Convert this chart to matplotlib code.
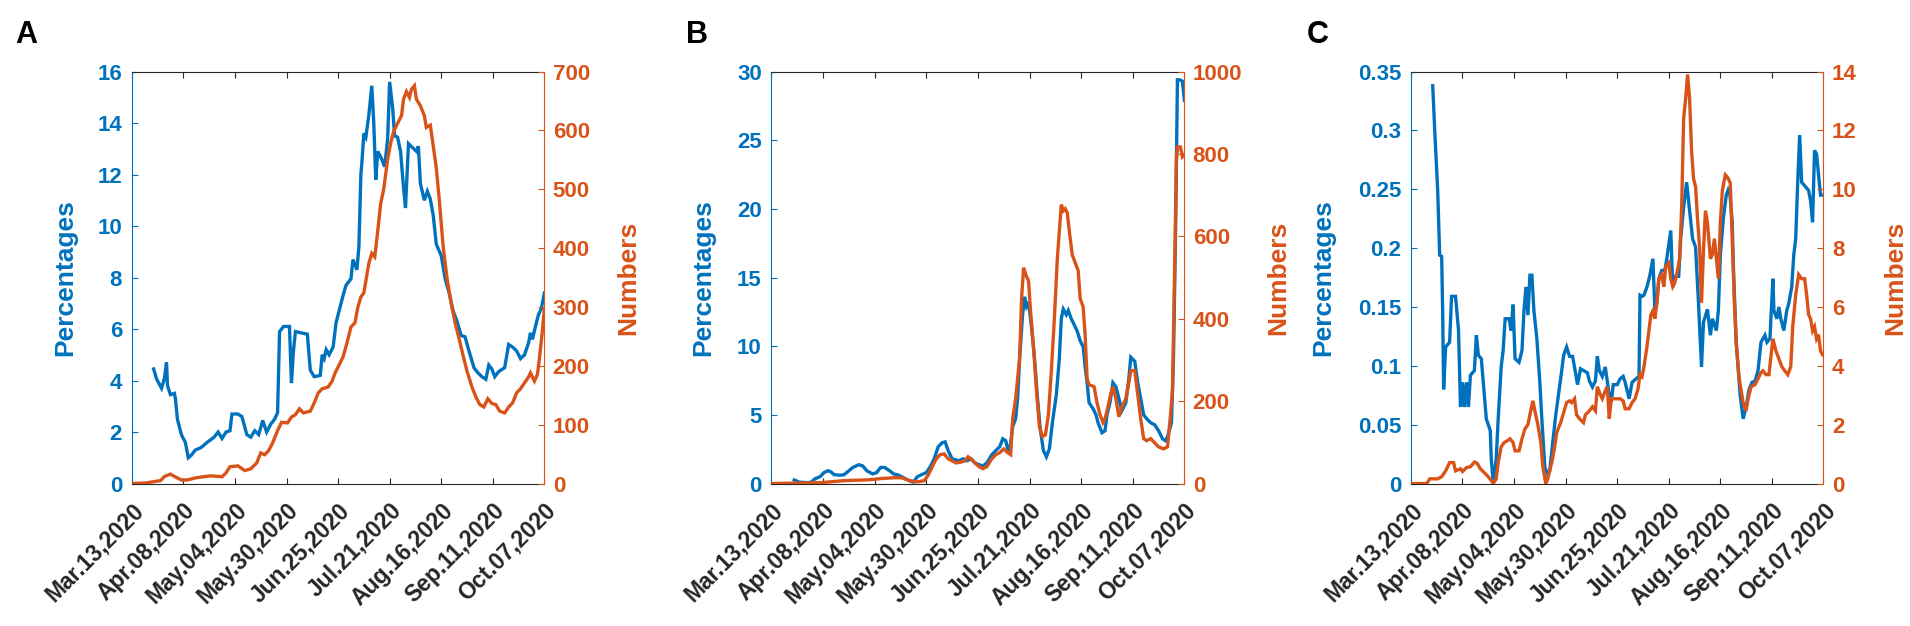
import numpy as np
import matplotlib
matplotlib.use("Agg")
import matplotlib.pyplot as plt
import matplotlib.transforms as mtransforms
from matplotlib.ticker import FuncFormatter

plt.rcParams['font.family'] = ['Liberation Sans', 'DejaVu Sans']
plt.rcParams['font.weight'] = 'bold'

BLUE = '#0072BD'
ORANGE = '#D95319'
DARK = '#262626'

# x axis: days since Mar.13,2020, a tick every 26 days
date_ticks = [0, 26, 52, 78, 104, 130, 156, 182, 208]
date_labels = ["Mar.13,2020", "Apr.08,2020", "May.04,2020", "May.30,2020", "Jun.25,2020",
               "Jul.21,2020", "Aug.16,2020", "Sep.11,2020", "Oct.07,2020"]

# (day, value) pairs
a_pct = [(11, 4.45), (12.5, 4.06), (15, 3.7), (16.5, 4.1), (17.5, 4.7), (18, 3.8), (19.5, 3.45), (21.5, 3.5), (22, 3.3), (23, 2.5),
         (25, 1.9), (27, 1.6), (28.5, 1.0), (30, 1.1), (32, 1.3), (35, 1.4), (38, 1.6), (41.5, 1.8), (43.5, 2.0), (45.5, 1.75),
         (47.5, 2.0), (49.5, 2.05), (50.5, 2.7), (53.5, 2.7), (55.5, 2.6), (58, 1.9), (60, 1.8), (62, 2.05), (64, 1.9), (66, 2.45),
         (68, 2.0), (70, 2.3), (72, 2.5), (73.5, 2.75), (74.5, 5.9), (76.5, 6.1), (79.5, 6.1), (80.5, 3.9), (81.5, 5.15), (82.5, 5.9),
         (85.5, 5.85), (88.5, 5.8), (90, 4.4), (92, 4.15), (95, 4.2), (96, 5.0), (97, 4.85), (98, 5.2), (99.5, 5.0), (101.5, 5.3),
         (103, 6.25), (106.5, 7.3), (108, 7.7), (110.5, 7.95), (111.5, 8.7), (113.5, 8.3), (114.5, 9.2), (115.5, 12.0), (116, 12.45), (117, 13.6),
         (118, 13.45), (119.5, 14.3), (121, 15.45), (122, 14.0), (123, 11.8), (124, 12.9), (126, 12.6), (127.5, 12.3), (129, 13.4), (130, 15.6),
         (131.5, 14.6), (132.5, 13.5), (134, 13.45), (135.5, 12.9), (137, 11.5), (138, 10.7), (139.5, 13.2), (141.5, 13.05), (143.5, 12.9), (144.5, 13.1),
         (145.5, 11.65), (147.5, 11.0), (149, 11.35), (150.5, 11.05), (152, 10.4), (153.5, 9.3), (156, 8.85), (158, 7.95), (160, 7.4), (162, 6.7),
         (164, 6.3), (166, 5.75), (168, 5.7), (170, 5.15), (172.5, 4.5), (174.5, 4.3), (176.5, 4.15), (178.5, 4.05), (180, 4.6), (181.5, 4.45),
         (183, 4.15), (185, 4.35), (188, 4.5), (190, 5.4), (192, 5.3), (194, 5.15), (196, 4.85), (198, 5.0), (200, 5.45), (201, 5.85),
         (202, 5.6), (203.5, 6.1), (205, 6.55), (206.5, 6.8), (208, 7.4)]

a_num = [(0, 0), (7, 1), (14.5, 5), (16.5, 12), (19.5, 16), (21.5, 12), (25, 6), (28, 6), (32, 9.5), (36, 11.5),
         (40, 13), (45.5, 11.5), (47.5, 18), (49.5, 28.5), (53.5, 30), (57, 22), (60, 25), (63, 35), (65, 52), (67, 49),
         (69, 56), (71, 69), (73.5, 90), (75.5, 104), (78.5, 103), (80.5, 113), (82.5, 117), (84.5, 127), (86.5, 120), (90, 123),
         (92, 137), (94, 154), (96, 161), (99, 164), (101, 174), (102.5, 188), (104, 198), (106.5, 215), (108.5, 239), (110.5, 266),
         (112.5, 273), (114, 300), (115.5, 317), (117, 324), (118.5, 354), (119.5, 374), (121, 391), (122.5, 385), (124, 429), (125.5, 476),
         (127, 500), (129, 551), (130.5, 578), (132, 598), (134, 612), (136, 625), (137, 653), (138.5, 666), (140, 656), (141, 670),
         (142.5, 676), (143.5, 653), (145.5, 642), (147.5, 625), (148.5, 605), (150.5, 609), (151.5, 585), (153.5, 537), (155, 483), (157, 402),
         (159, 347), (161, 307), (163, 273), (165, 246), (167, 218), (169, 191), (171.5, 164), (173.5, 147), (175.5, 134), (177.5, 130),
         (179.5, 144), (181.5, 136), (183.5, 134), (185.5, 123), (188, 120), (190, 130), (192, 137), (194, 154), (196, 161), (198, 171),
         (200, 181), (201, 188), (203, 174), (204.5, 185), (205.5, 212), (207, 259), (208, 296)]

b_pct = [(11.5, 0.26), (14, 0.1), (18, 0.06), (20, 0.1), (22, 0.35), (24.5, 0.5), (26.5, 0.8), (28.5, 0.93), (30, 0.85), (31.5, 0.65),
         (34.5, 0.6), (36.5, 0.64), (38.5, 0.87), (41, 1.17), (44, 1.37), (46, 1.28), (48, 0.93), (51, 0.7), (53, 0.8), (55, 1.17),
         (57, 1.17), (59.5, 0.93), (61.5, 0.7), (63.5, 0.64), (65.5, 0.5), (67.5, 0.35), (69.5, 0.2), (71.5, 0.1), (73.5, 0.5), (75.5, 0.64),
         (78, 0.79), (80, 1.22), (82, 1.8), (84, 2.68), (86, 2.97), (87.5, 3.03), (89, 2.4), (91, 1.8), (94.5, 1.66), (96.5, 1.8),
         (98.5, 1.66), (100.5, 1.8), (102.5, 1.5), (104.5, 1.37), (106.5, 1.28), (108.5, 1.5), (111, 2.1), (113, 2.4), (115, 2.68), (116.5, 3.26),
         (118, 3.12), (119, 2.53), (120, 2.4), (121.5, 4.14), (123, 4.72), (124, 6.2), (125, 9.1), (126.5, 12.3), (127.5, 13.6), (128.5, 12.9),
         (129.5, 13.2), (131, 11.4), (132.5, 9.1), (134, 6.2), (135.5, 3.85), (137, 2.4), (138.5, 1.95), (140, 2.53), (141.5, 4.43), (143.5, 6.47),
         (145, 9.1), (146, 12.0), (147, 12.7), (148.5, 12.3), (149.5, 12.6), (151, 12.0), (152.5, 11.56), (154, 11.1), (155.5, 10.4), (157, 9.96),
         (158, 8.5), (159, 7.34), (160, 5.88), (162, 5.45), (163.5, 5.0), (164.5, 4.43), (166.5, 3.7), (168, 3.84), (169, 5.0), (170.5, 5.88),
         (172, 7.34), (173.5, 7.05), (175, 6.2), (176.5, 5.3), (178.5, 5.88), (180, 7.63), (181, 9.2), (183, 8.9), (184.5, 7.34), (186, 6.17),
         (187.5, 5.0), (189, 4.72), (191, 4.43), (193, 4.28), (195, 3.84), (197, 3.26), (198.5, 3.12), (199.5, 3.4), (201.5, 4.43), (202.5, 9.1),
         (203.5, 17.8), (204.5, 29.4), (205.5, 29.4), (207, 29.3), (208, 27.9)]

b_num = [(0, 0), (24.5, 2), (36.5, 7), (49, 9), (55, 12), (61.5, 14), (65.5, 14), (69.5, 7), (73.5, 4), (77, 7),
         (79, 21), (81, 41), (83, 60), (85, 70), (87, 72), (89, 60), (91, 55), (93, 50), (95.5, 52), (97.5, 55),
         (99, 65), (100.5, 60), (102.5, 50), (104.5, 41), (106.5, 36), (108.5, 41), (111, 60), (113, 70), (115, 75), (117, 84),
         (119, 75), (120.5, 70), (121.5, 157), (123, 206), (125, 303), (126, 449), (127, 524), (128.5, 502), (129.5, 492), (130.5, 419),
         (132, 332), (133.5, 225), (135, 138), (136.5, 114), (138, 118), (139.5, 167), (141, 274), (142.5, 400), (144, 546), (146, 677),
         (147, 662), (148, 667), (149, 657), (150, 614), (151.5, 555), (153, 536), (154.5, 517), (155.5, 449), (157, 429), (158, 361),
         (159, 254), (160, 240), (162.5, 235), (164, 196), (165.5, 167), (167, 148), (168, 157), (169.5, 186), (171, 220), (172, 235),
         (173.5, 206), (175, 162), (176.5, 186), (178.5, 206), (180, 245), (181, 274), (183, 274), (184.5, 216), (186, 157), (187.5, 109),
         (189, 104), (191, 109), (193, 99), (195, 89), (197.5, 84), (199.5, 89), (201, 167), (202, 225), (203, 497), (204, 788),
         (204.5, 817), (206, 817), (207, 793), (208, 798)]

c_pct = [(11, 0.338), (12, 0.30), (13.5, 0.249), (14.5, 0.194), (15.5, 0.193), (16, 0.147), (16.5, 0.08), (17.5, 0.116), (19.5, 0.12), (20.5, 0.159),
         (22.5, 0.159), (24, 0.13), (25, 0.065), (26, 0.086), (27, 0.065), (28, 0.086), (29, 0.065), (30, 0.092), (32, 0.096), (33, 0.126),
         (34, 0.109), (35.5, 0.106), (36.5, 0.086), (38, 0.055), (40, 0.045), (40.5, 0.021), (41.5, 0.001), (43, 0.021), (44, 0.055), (45.5, 0.099),
         (46.5, 0.113), (47.5, 0.14), (49.5, 0.14), (50.5, 0.13), (51.5, 0.152), (52.5, 0.106), (54.5, 0.103), (56, 0.113), (57, 0.147), (58, 0.167),
         (59, 0.143), (60, 0.177), (61, 0.177), (62, 0.147), (63.5, 0.123), (65, 0.086), (66, 0.055), (67.5, 0.014), (69, 0.0075), (70, 0.011),
         (71.5, 0.035), (73, 0.058), (75.5, 0.089), (77, 0.109), (78.5, 0.116), (80, 0.108), (81.5, 0.108), (83, 0.094), (84, 0.084), (85.5, 0.0975),
         (87, 0.096), (89, 0.094), (90, 0.087), (91.5, 0.082), (93, 0.087), (94, 0.108), (95, 0.096), (96.5, 0.091), (98, 0.099), (100, 0.075),
         (101, 0.069), (102, 0.084), (104, 0.084), (105.5, 0.089), (107, 0.091), (108, 0.086), (110, 0.072), (111.5, 0.086), (113.5, 0.089), (115, 0.091),
         (115.5, 0.16), (116.5, 0.159), (117.5, 0.16), (119, 0.167), (120.5, 0.177), (122, 0.191), (123, 0.147), (124, 0.153), (125, 0.174), (126.5, 0.181),
         (128, 0.181), (129, 0.191), (131, 0.215), (132, 0.167), (133, 0.176), (135, 0.176), (136, 0.208), (137.5, 0.235), (139, 0.256), (140.5, 0.232),
         (142, 0.208), (143.5, 0.201), (145, 0.153), (146.5, 0.099), (147.5, 0.137), (149.5, 0.148), (151, 0.126), (152, 0.14), (154, 0.13), (155, 0.147),
         (156, 0.194), (157.5, 0.225), (159, 0.245), (160.5, 0.252), (162, 0.222), (162.5, 0.188), (164, 0.12), (166, 0.075), (167.5, 0.055), (169, 0.065),
         (170.5, 0.08), (172, 0.086), (173.5, 0.087), (175, 0.096), (176.5, 0.12), (178.5, 0.126), (179.5, 0.12), (181, 0.123), (182.5, 0.174), (183, 0.147),
         (184.5, 0.14), (185.5, 0.15), (186.5, 0.14), (188, 0.13), (189.5, 0.147), (190.5, 0.153), (192, 0.167), (193, 0.194), (194, 0.208), (195, 0.256),
         (196, 0.296), (197, 0.256), (199, 0.252), (200.5, 0.249), (201.5, 0.24), (202.5, 0.222), (203.5, 0.283), (204.5, 0.28), (205.5, 0.262), (206.5, 0.245),
         (207.5, 0.245)]

c_num = [(0, 0), (8, 0), (9.5, 0.16), (13.5, 0.16), (15.5, 0.23), (17.5, 0.43), (19.5, 0.71), (21.5, 0.71), (22.5, 0.43), (25, 0.5),
         (26, 0.41), (28, 0.54), (30, 0.57), (32, 0.73), (33.5, 0.68), (35, 0.5), (37, 0.37), (39, 0.23), (40.5, 0.1), (41.5, 0),
         (43, 0.16), (44, 0.71), (45.5, 1.25), (47, 1.39), (48.5, 1.45), (50, 1.52), (51.5, 1.39), (52.5, 1.11), (54.5, 1.11), (56, 1.52),
         (57.5, 1.86), (59, 2.0), (60, 2.34), (61.5, 2.81), (62.5, 2.47), (64, 2.0), (65.5, 1.39), (66.5, 0.57), (68, 0), (69, 0.16),
         (71, 0.71), (72.5, 1.25), (73.5, 1.73), (75.5, 2.07), (77, 2.41), (78.5, 2.75), (80, 2.81), (81, 2.75), (82.5, 2.88), (83.5, 2.34),
         (85, 2.2), (87, 2.07), (88, 2.34), (90, 2.47), (91.5, 2.61), (93, 2.47), (94, 3.29), (95.5, 3.02), (96.5, 2.88), (98, 3.15),
         (99, 3.29), (100, 2.2), (101, 2.88), (103.5, 2.88), (105.5, 2.88), (107, 2.81), (108, 2.54), (110, 2.54), (111.5, 2.75), (113, 2.88),
         (114.5, 3.22), (115.5, 3.7), (116.5, 3.63), (117.5, 3.97), (119, 4.65), (120, 5.19), (121, 5.74), (122, 5.87), (123, 5.6), (124, 6.14),
         (125, 6.96), (126.5, 7.1), (127.5, 6.69), (128.5, 7.37), (130, 7.5), (131, 6.96), (132, 6.69), (133, 6.82), (134, 7.1), (135.5, 7.64),
         (136.5, 9.41), (137.5, 12.4), (138.5, 13.08), (139.5, 13.9), (140.5, 13.08), (141.5, 11.31), (142.5, 10.36), (143.5, 10.09), (144.5, 9.0), (145.5, 8.05),
         (146.5, 6.14), (147.5, 7.91), (148.5, 9.27), (149.5, 8.86), (151, 7.64), (152, 7.78), (153, 8.32), (154, 7.64), (155, 6.96), (156, 8.86),
         (157, 9.95), (158.5, 10.49), (159.5, 10.42), (161, 10.22), (162, 8.32), (163, 6.28), (164, 4.78), (165.5, 3.56), (167.5, 2.75), (169, 2.47),
         (170, 2.88), (171.5, 3.29), (173.5, 3.36), (175, 3.56), (176.5, 3.77), (177.5, 3.83), (179, 3.7), (180.5, 3.7), (182.5, 4.92), (184, 4.51),
         (185.5, 4.24), (187, 3.97), (188.5, 3.83), (190, 3.7), (191.5, 3.97), (192.5, 5.33), (194, 6.42), (195.5, 7.1), (197, 6.96), (198.5, 6.96),
         (199.5, 6.42), (200.5, 5.74), (201.5, 5.6), (202.5, 5.19), (203.5, 5.33), (204.5, 4.92), (205.5, 5.06), (206.5, 4.51), (207.5, 4.38)]

pct_ticks = {'A': [0, 2, 4, 6, 8, 10, 12, 14, 16],
             'B': [0, 5, 10, 15, 20, 25, 30],
             'C': [0, 0.05, 0.1, 0.15, 0.2, 0.25, 0.3, 0.35]}
num_ticks = {'A': [0, 100, 200, 300, 400, 500, 600, 700],
             'B': [0, 200, 400, 600, 800, 1000],
             'C': [0, 2, 4, 6, 8, 10, 12, 14]}

panels = [
    # letter, pct, num, axes rect, letter x, ylabel x (left, right)
    ('A', a_pct, a_num, [0.0690, 0.2276, 0.2160, 0.6581], 0.008, -0.131, 1.174),
    ('B', b_pct, b_num, [0.4039, 0.2276, 0.2162, 0.6581], 0.359, -0.135, 1.198),
    ('C', c_pct, c_num, [0.7387, 0.2276, 0.2160, 0.6581], 0.684, -0.183, 1.144),
]

fig = plt.figure(figsize=(19.1, 6.26), dpi=100)
fs = 16

for letter, pct, num, rect, lx, ylx, yrx in panels:
    ax = fig.add_axes(rect)
    ax2 = ax.twinx()
    p = np.array(pct)
    n = np.array(num)
    ax.plot(p[:, 0], p[:, 1], color=BLUE, lw=2.4, solid_joinstyle='miter')
    ax2.plot(n[:, 0], n[:, 1], color=ORANGE, lw=2.4, solid_joinstyle='miter')

    ax.set_xlim(0, 208)
    lt = pct_ticks[letter]
    rt = num_ticks[letter]
    ax.set_ylim(lt[0], lt[-1])
    ax2.set_ylim(rt[0], rt[-1])
    ax.set_yticks(lt)
    ax2.set_yticks(rt)
    ax.yaxis.set_major_formatter(FuncFormatter(lambda v, pos: '%g' % v))
    ax2.yaxis.set_major_formatter(FuncFormatter(lambda v, pos: '%g' % v))

    ax.set_xticks(date_ticks)
    ax.set_xticklabels(date_labels, rotation=45, ha='right', va='top',
                       rotation_mode='anchor', fontsize=16.5, color=DARK)
    shift = mtransforms.ScaledTranslation(3 / 100, 0, fig.dpi_scale_trans)
    for t in ax.get_xticklabels():
        t.set_transform(t.get_transform() + shift)

    ax.tick_params(axis='x', direction='in', length=4, width=0.8, top=True,
                   color=DARK, pad=11)
    ax.tick_params(axis='y', direction='in', length=4, width=0.8,
                   colors=BLUE, labelsize=fs, pad=7)
    ax2.tick_params(axis='y', direction='in', length=4, width=0.8,
                    colors=ORANGE, labelsize=fs, pad=6)

    for s in ['top', 'bottom']:
        ax.spines[s].set_color(DARK)
        ax.spines[s].set_linewidth(0.8)
    ax.spines['left'].set_color(BLUE)
    ax.spines['left'].set_linewidth(0.8)
    ax.spines['right'].set_visible(False)
    for s in ['top', 'bottom', 'left']:
        ax2.spines[s].set_visible(False)
    ax2.spines['right'].set_color(ORANGE)
    ax2.spines['right'].set_linewidth(0.8)

    ax.set_ylabel('Percentages', color=BLUE, fontsize=19, fontweight='bold')
    ax.yaxis.set_label_coords(ylx, 0.5)
    ax2.set_ylabel('Numbers', color=ORANGE, fontsize=19, fontweight='bold',
                   rotation=90)
    ax2.yaxis.set_label_coords(yrx, 0.5)

    fig.text(lx, 0.931, letter, fontsize=22, fontweight='bold', color='black',
             ha='left', va='baseline')

fig.savefig('out.png', dpi=100, facecolor='white')
